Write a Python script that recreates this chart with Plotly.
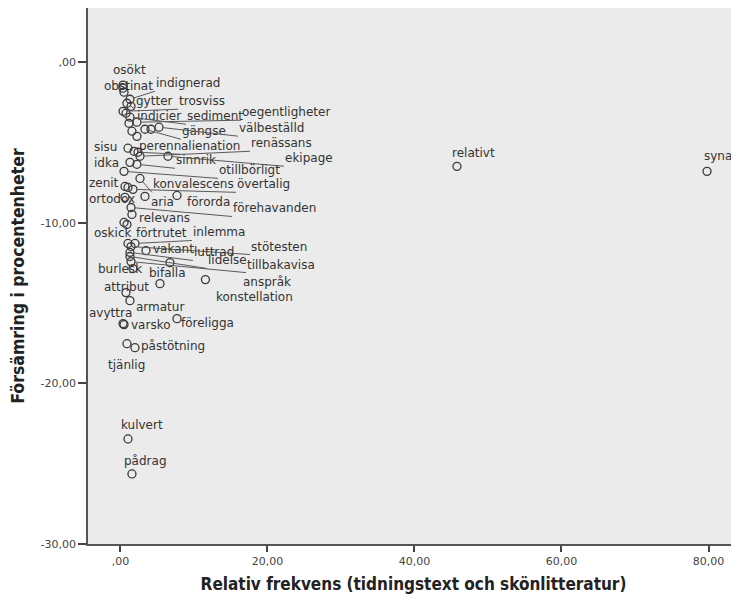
import plotly.graph_objects as go

# ---- data ----
words = ["osökt", "obstinat", "indignerad", "gytter", "trosviss", "indicier", "sediment",
         "oegentligheter", "gängse", "välbeställd", "sisu", "perenn", "alienation", "renässans",
         "idka", "sinnrik", "ekipage", "otillbörligt", "zenit", "konvalescens", "övertalig",
         "ortodox", "aria", "förorda", "förehavanden", "relevans", "oskick", "förtrutet",
         "inlemma", "stötesten", "vakant", "luttrad", "lidelse", "tillbakavisa", "burlesk",
         "bifalla", "anspråk", "konstellation", "attribut", "armatur", "avyttra", "varsko",
         "föreligga", "påstötning", "tjänlig", "kulvert", "pådrag", "relativt", "synas"]
freq = [0.35, 0.48, 1.29, 0.88, 0.35, 0.75, 1.29,
        2.24, 3.33, 5.24, 1.02, 1.84, 2.38, 2.65,
        1.29, 2.24, 6.46, 0.48, 1.02, 2.65, 1.70,
        0.61, 3.33, 7.69, 1.43, 1.56, 0.48, 1.02,
        1.97, 1.43, 3.47, 1.29, 1.29, 1.43, 1.70,
        6.73, 11.56, 5.37, 0.75, 1.29, 0.35, 0.48,
        7.69, 1.97, 0.88, 1.02, 1.56, 45.78, 79.80]
change = [-1.43, -1.87, -2.31, -2.56, -3.06, -3.18, -3.43,
          -3.74, -4.18, -4.05, -5.36, -5.55, -5.61, -5.86,
          -6.24, -6.36, -5.86, -6.80, -7.80, -7.24, -7.92,
          -8.42, -8.36, -8.30, -9.05, -9.48, -9.98, -11.29,
          -11.29, -11.48, -11.73, -11.85, -12.10, -12.42, -12.85,
          -12.48, -13.54, -13.79, -14.35, -14.85, -16.28, -16.34,
          -15.97, -17.78, -17.53, -23.46, -25.64, -6.49, -6.80]

# further points in the dense cluster whose labels are hidden
extra_freq = [0.33, 1.16, 1.56, 2.24, 4.15, 0.61, 0.88, 1.43]
extra_change = [-1.62, -3.81, -4.30, -4.62, -4.18, -7.74, -10.11, -2.75]

x_ticks = [0, 20, 40, 60, 80]
x_tick_text = [",00", "20,00", "40,00", "60,00", "80,00"]
y_ticks = [0, -10, -20, -30]
y_tick_text = [",00", "-10,00", "-20,00", "-30,00"]

x_title = "Relativ frekvens (tidningstext och skönlitteratur)"
y_title = "Försämring i procentenheter"

# ---- label placement (pixel offsets from the point; leader line flag) ----
label_pos = {
    "osökt": (-11, -15, False), "obstinat": (-21, -6, False), "indignerad": (25, -16, True),
    "gytter": (8, -2, True), "trosviss": (55, -10, True), "indicier": (10, 3, False),
    "sediment": (56, -1, True), "oegentligheter": (104, -10, True), "gängse": (36, 2, True),
    "välbeställd": (79, 1, True), "sisu": (-35, -1, False), "perenn": (4, -5, False),
    "alienation": (42, -6, True), "renässans": (110, -13, True), "idka": (-37, 1, False),
    "sinnrik": (38, -4, True), "ekipage": (116, 2, True), "otillbörligt": (94, -1, True),
    "zenit": (-40, -4, False), "konvalescens": (12, 6, True), "övertalig": (103, -5, True),
    "ortodox": (-37, 2, False), "aria": (5, 6, False), "förorda": (9, 7, False),
    "förehavanden": (101, 1, True), "relevans": (6, 4, False), "oskick": (-31, 11, False),
    "förtrutet": (7, -10, False), "inlemma": (57, -11, True), "stötesten": (119, 0, True),
    "vakant": (6, -2, False), "luttrad": (63, 0, True), "lidelse": (77, 4, True),
    "tillbakavisa": (115, 3, True), "burlesk": (-36, 0, False), "bifalla": (-22, 10, False),
    "anspråk": (37, 2, False), "konstellation": (55, 13, False), "attribut": (-23, -6, False),
    "armatur": (5, 6, False), "avyttra": (-35, -11, False), "varsko": (6, 0, False),
    "föreligga": (3, 4, False), "påstötning": (5, -2, False), "tjänlig": (-20, 21, False),
    "kulvert": (-8, -14, False), "pådrag": (-9, -13, False), "relativt": (-6, -13, False),
    "synas": (-4, -15, False),
}

marker_style = dict(symbol="circle-open", size=8, color="#3a3a3a", line=dict(width=1.3))

fig = go.Figure()
fig.add_trace(go.Scatter(x=extra_freq, y=extra_change, mode="markers",
                         marker=marker_style, hoverinfo="skip", showlegend=False))
fig.add_trace(go.Scatter(x=freq, y=change, mode="markers", text=words,
                         marker=marker_style, showlegend=False))

annotations = []
for w, xv, yv in zip(words, freq, change):
    dx, dy, leader = label_pos[w]
    annotations.append(dict(
        x=xv, y=yv, xref="x", yref="y", text=w,
        showarrow=True, ax=dx, ay=dy + 8 if leader else dy, axref="pixel", ayref="pixel",
        xanchor="left", yanchor="bottom" if leader else "middle",
        arrowhead=0, arrowwidth=1, standoff=4,
        arrowcolor="#5a5a5a" if leader else "rgba(0,0,0,0)",
        font=dict(family="DejaVu Sans", size=12, color="#333333"),
        borderpad=0,
    ))

tick_font = dict(family="DejaVu Sans", size=11, color="#444444")

fig.update_layout(
    width=739, height=597,
    margin=dict(l=80, r=8, t=0, b=61, autoexpand=False),
    paper_bgcolor="white", plot_bgcolor="#EBEBEB",
    annotations=annotations,
    xaxis=dict(range=[-4.42, 84.15], tickvals=x_ticks, ticktext=x_tick_text,
               showgrid=False, zeroline=False, showline=True, linecolor="#555555",
               linewidth=1.5, mirror=True, ticks="outside", ticklen=6, tickwidth=1.5,
               tickcolor="#444444", tickfont=tick_font, automargin=False,
               title=dict(text=x_title, standoff=11,
                          font=dict(family="DejaVu Sans Condensed", size=17,
                                    color="#222222", weight="bold"))),
    yaxis=dict(range=[-30, 3.37], tickvals=y_ticks, ticktext=y_tick_text,
               showgrid=False, zeroline=False, showline=True, linecolor="#555555",
               linewidth=1.5, mirror=False, ticks="outside", ticklen=8, tickwidth=1.5,
               tickcolor="#444444", tickfont=tick_font, automargin=False,
               title=dict(text=y_title, standoff=19,
                          font=dict(family="DejaVu Sans Condensed", size=17.5,
                                    color="#222222", weight="bold"))),
)

fig.write_html("out.html")
